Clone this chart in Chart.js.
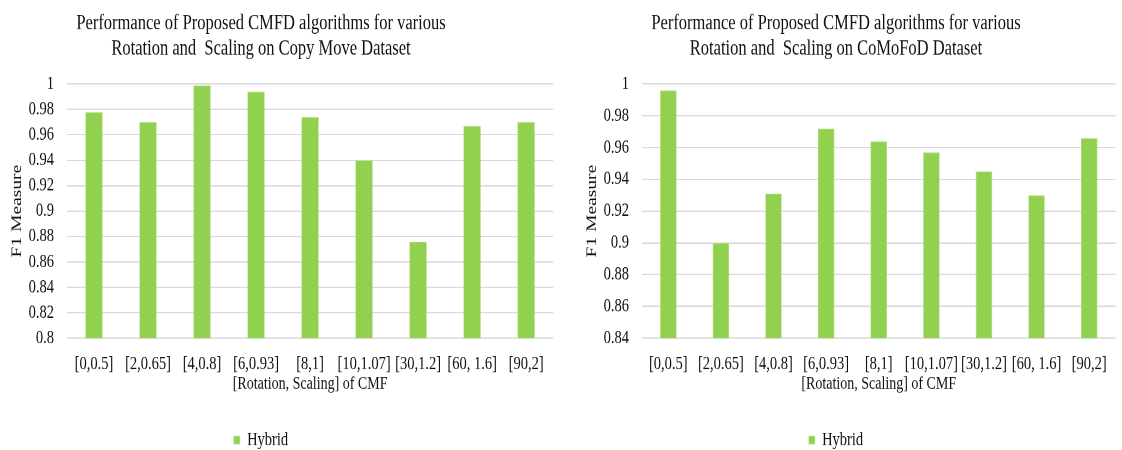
<!DOCTYPE html>
<html>
<head>
<meta charset="utf-8">
<script src="https://cdn.jsdelivr.net/npm/chart.js@4.4.1/dist/chart.umd.min.js"></script>
<style>
  html, body { margin: 0; padding: 0; background: #fff; }
  body { width: 1122px; height: 450px; overflow: hidden; position: relative; }
  .panel { position: absolute; top: 0; transform: scaleY(1.3); transform-origin: 0 0; }
  #p1 { left: -33px; }
  #p2 { left: 554px; }
</style>
</head>
<body>
<div class="panel" id="p1"><canvas id="c1" width="588" height="346"></canvas></div>
<div class="panel" id="p2"><canvas id="c2" width="564" height="346"></canvas></div>
<script>
// [Rotation, Scaling] settings tested
const categories = ['[0,0.5]', '[2,0.65]', '[4,0.8]', '[6,0.93]', '[8,1]', '[10,1.07]', '[30,1.2]', '[60, 1.6]', '[90,2]'];

// F1 measure of the hybrid method on each dataset
const copyMoveF1 = [0.978, 0.970, 0.999, 0.994, 0.974, 0.940, 0.876, 0.967, 0.970];
const comofodF1  = [0.996, 0.900, 0.931, 0.972, 0.964, 0.957, 0.945, 0.930, 0.966];

const seriesName = 'Hybrid';
const copyMoveTitle = ['Performance of Proposed CMFD algorithms for various', 'Rotation and  Scaling on Copy Move Dataset'];
const comofodTitle  = ['Performance of Proposed CMFD algorithms for various', 'Rotation and  Scaling on CoMoFoD Dataset'];
const xAxisTitle = '[Rotation, Scaling] of CMF';
const yAxisTitle = 'F1 Measure';

// y-axis ranges
const copyMoveRange = { min: 0.8, max: 1, step: 0.02 };
const comofodRange  = { min: 0.84, max: 1, step: 0.02 };

const ink = '#111111';
const gridColor = '#d9d9d9';
const barColor = '#92d050';
const serif = 'Liberation Serif, Times New Roman, serif';

function makeChart(canvasId, values, title, range, yWidth, yTitlePad, barPct) {
  return new Chart(document.getElementById(canvasId), {
    type: 'bar',
    data: {
      labels: categories,
      datasets: [{
        label: seriesName,
        data: values,
        backgroundColor: barColor,
        borderColor: '#b5e08a',
        borderWidth: 0.6,
        categoryPercentage: 1,
        barPercentage: barPct
      }]
    },
    options: {
      responsive: false,
      animation: false,
      devicePixelRatio: 2,
      layout: { padding: 0 },
      plugins: {
        tooltip: { enabled: false },
        title: {
          display: true,
          text: title,
          color: ink,
          font: { family: serif, size: 16.5, weight: 'normal', lineHeight: 1.176 },
          padding: { top: 8.4, bottom: 17.4 }
        },
        legend: {
          display: true,
          position: 'bottom',
          maxHeight: 42.5,
          labels: {
            color: ink,
            font: { family: serif, size: 14.5 },
            boxWidth: 6,
            boxHeight: 6,
            padding: 27.8
          }
        }
      },
      scales: {
        x: {
          grid: { display: false, drawTicks: false },
          border: { display: false },
          ticks: {
            color: ink,
            font: { family: serif, size: 14.5 },
            padding: 11.3,
            autoSkip: false,
            maxRotation: 0
          },
          title: {
            display: true,
            text: xAxisTitle,
            color: ink,
            font: { family: serif, size: 14, lineHeight: 1.2 },
            padding: { top: 0, bottom: 0 }
          },
          afterFit: (scale) => { scale.height = 43.4; }
        },
        y: {
          min: range.min,
          max: range.max,
          grid: { color: gridColor, lineWidth: 1, drawTicks: false },
          border: { display: false },
          ticks: {
            stepSize: range.step,
            autoSkip: false,
            color: ink,
            font: { family: serif, size: 14.5 },
            padding: 13,
            callback: (v) => String(Number(v.toFixed(2)))
          },
          title: {
            display: true,
            text: yAxisTitle,
            color: ink,
            font: { family: serif, size: 15, lineHeight: 1.2 },
            padding: { top: yTitlePad, bottom: 0 }
          },
          afterFit: (scale) => { scale.width = yWidth; }
        }
      }
    }
  });
}

makeChart('c1', copyMoveF1, copyMoveTitle, copyMoveRange, 100, 41, 0.323);
makeChart('c2', comofodF1, comofodTitle, comofodRange, 88, 29, 0.314);
</script>
</body>
</html>
